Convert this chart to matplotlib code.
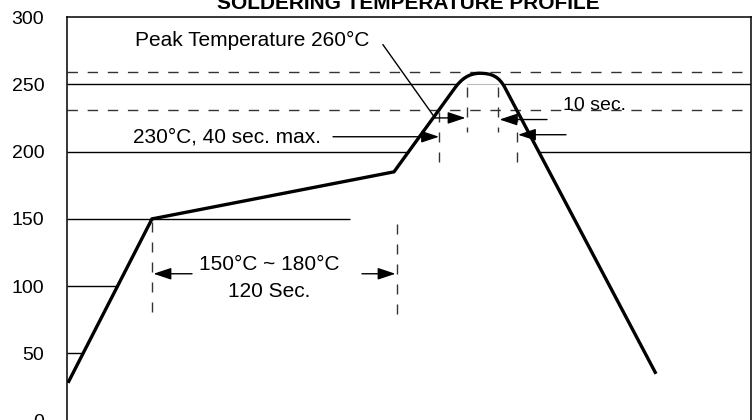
import matplotlib
matplotlib.use("Agg")
import matplotlib.pyplot as plt
from matplotlib.path import Path
from matplotlib.patches import PathPatch

plt.rcParams['font.family'] = ['Liberation Sans', 'DejaVu Sans']
plt.rcParams['lines.scale_dashes'] = False

# ---------------- data (x = time in s, y = temperature in C) ----------------
y_ticks = [0, 50, 100, 150, 200, 250, 300]
x_max = 342.25

# profile: preheat ramp, soak, ramp to reflow
ramp_t = [0.75, 42.75, 163.75, 194.25]
ramp_T = [28.1, 150, 185, 247.5]
# rounded top: bezier control, control, peak, control, control, end
cap_t = [197.25, 201.0, 206.75, 212.5, 216.25, 219.25]
cap_T = [253.6, 258.3, 258.3, 258.3, 256.0, 247.5]
# cool down
cool_t = [294.75]
cool_T = [34.8]

# solid reference lines (level, start, end)
solid_T = [250, 250, 200, 200, 150, 100, 50]
solid_t0 = [0, 218.5, 0, 236.0, 0, 0, 0]
solid_t1 = [195.5, x_max, 171.0, x_max, 141.75, 25.5, 8.0]
gray_T = 250
gray_t = [200.25, 215.75]

# dashed limits
dash_T = [259, 231]
vdash_t = [42.75, 165.25, 186.25, 225.25, 200.25, 215.75]
vdash_T0 = [148, 146, 229.6, 229.6, 248.2, 248.2]
vdash_T1 = [76.5, 76.5, 191.7, 191.7, 214.7, 214.7]

# arrows (tail t, tail T, head t, head T)
arr_tail_t = [62.75, 147.75, 133.25, 249.75, 184.25, 240.25]
arr_tail_T = [109.2, 109.2, 211.1, 212.6, 225.1, 223.9]
arr_head_t = [43.5, 164.5, 186.25, 225.75, 199.5, 216.5]
arr_head_T = [109.2, 109.2, 211.1, 212.6, 225.1, 223.9]
leader_t = [158.25, 184.25]
leader_T = [279.5, 225.1]

# ---------------- figure ----------------
fig = plt.figure(figsize=(7.56, 4.2), dpi=100)
ax = fig.add_axes([66.5 / 756, -0.6 / 420, (751 - 66.5) / 756, (420.8 - 17.4) / 420])
ax.set_xlim(0, x_max)
ax.set_ylim(0, 300)
ax.set_xticks([])
ax.set_yticks(y_ticks)
ax.tick_params(axis='y', length=0, pad=16, labelsize=14)
for sp in ax.spines.values():
    sp.set_linewidth(1.1)
    sp.set_color('black')

ax.set_title('SOLDERING TEMPERATURE PROFILE', fontsize=15, fontweight='bold', pad=6)

# reference lines
for T, t0, t1 in zip(solid_T, solid_t0, solid_t1):
    ax.plot([t0, t1], [T, T], color='black', lw=1.0, solid_capstyle='butt')
ax.plot(gray_t, [gray_T, gray_T], color='#bbbbbb', lw=0.8)

for T in dash_T:
    ax.plot([0, x_max], [T, T], color='#333333', lw=1.0, dashes=(7.5, 7.0))
for t, T0, T1 in zip(vdash_t, vdash_T0, vdash_T1):
    ax.plot([t, t], [T0, T1], color='#333333', lw=1.0, dashes=(7.2, 7.2))

# profile curve
verts = list(zip(ramp_t, ramp_T)) + list(zip(cap_t, cap_T)) + list(zip(cool_t, cool_T))
codes = [Path.MOVETO] + [Path.LINETO] * (len(ramp_t) - 1) + [Path.CURVE4] * len(cap_t) + [Path.LINETO] * len(cool_t)
ax.add_patch(PathPatch(Path(verts, codes), fill=False, lw=2.4, edgecolor='black',
                       joinstyle='miter', capstyle='butt', zorder=5))

# arrows
style = '-|>,head_length=0.75,head_width=0.25'
for xt, yt, xh, yh in zip(arr_tail_t, arr_tail_T, arr_head_t, arr_head_T):
    ax.annotate('', xy=(xh, yh), xytext=(xt, yt),
                arrowprops=dict(arrowstyle=style, mutation_scale=14.4, lw=1.0,
                                color='black', shrinkA=0, shrinkB=0), zorder=6)
ax.plot(leader_t, leader_T, color='black', lw=1.0)

# labels
ax.text(34.25, 282.4, 'Peak Temperature 260°C', fontsize=15, va='center', ha='left')
ax.text(33.25, 211.1, '230°C, 40 sec. max.', fontsize=15, va='center', ha='left')
ax.text(101.5, 115.9, '150°C ~ 180°C', fontsize=15, va='center', ha='center')
ax.text(101.25, 95.8, '120 Sec.', fontsize=15, va='center', ha='center')
ax.text(248.25, 231.1, '10 sec.', fontsize=14, va='baseline', ha='left')

fig.savefig('out.png', dpi=100)
